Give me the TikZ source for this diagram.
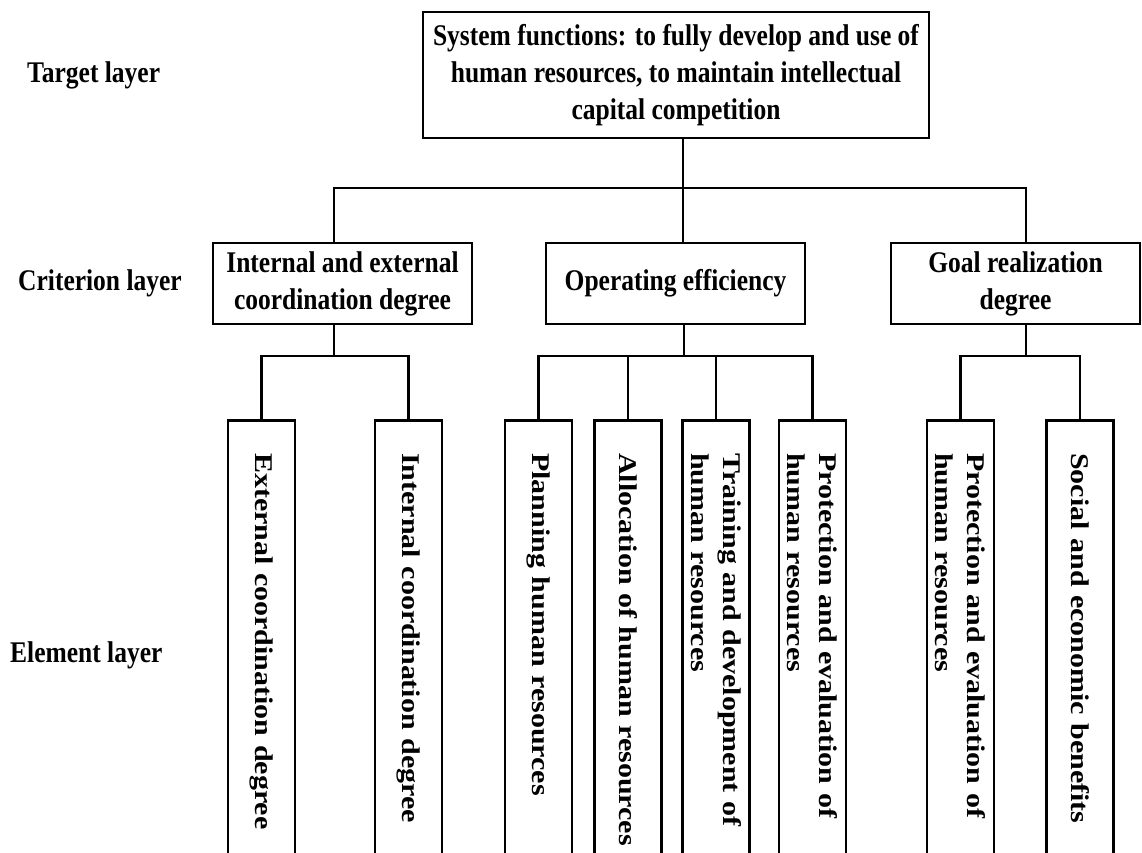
\documentclass[tikz,border=0pt]{standalone}
\usepackage{fontspec}
\setmainfont{Liberation Serif}
\newfontfamily\hfont[FakeStretch=0.85]{Liberation Serif}
\newfontfamily\vfont[FakeStretch=1.176]{Liberation Serif}
\begin{document}
\begin{tikzpicture}[x=1pt,y=-1pt,
  hfnt/.style={font=\hfont\bfseries\fontsize{30}{37}\selectfont},
  hbox/.style={hfnt, draw, line width=2.5pt, inner sep=0pt, align=center},
  ebox/.style={draw, line width=2.5pt, rotate=-90, anchor=west, minimum height=67,
    text width=440, inner xsep=33, inner ysep=0, align=left,
    font=\vfont\bfseries\fontsize{25.5}{32}\selectfont},
  lab/.style={hfnt, anchor=west, inner sep=0pt},
  conn/.style={line width=2.5pt}]
\useasboundingbox (0,0) rectangle (1142,852);
\clip (0,0) rectangle (1142,852);
\fill[white] (0,0) rectangle (1142,852);

% layer labels
\node[lab] (l1) at (27,75) {Target layer};
\node[lab] (l2) at (18,283) {Criterion layer};
\node[lab] (l3) at (10,655) {Element layer};

% target
\node[hbox, minimum width=506, minimum height=126] (t) at (676,75)
  {System functions: to fully develop and use of\\human resources, to maintain intellectual\\capital competition};

% criteria
\node[hbox, minimum width=259, minimum height=81] (c1) at (342.5,283.5)
  {Internal and external\\coordination degree};
\node[hbox, minimum width=259, minimum height=81] (c2) at (675.5,283.5)
  {Operating efficiency};
\node[hbox, minimum width=249, minimum height=81] (c3) at (1015.5,283.5)
  {Goal realization\\degree};

% elements
\node[ebox] (e1) at (261.5,419) {External coordination degree};
\node[ebox] (e2) at (408.5,419) {Internal coordination degree};
\node[ebox] (e3) at (538.5,419) {Planning human resources};
\node[ebox] (e4) at (628,419) {Allocation of human resources};
\node[ebox] (e5) at (716,419) {Training and development of\\human resources};
\node[ebox] (e6) at (812.5,419) {Protection and evaluation of\\human resources};
\node[ebox] (e7) at (960.5,419) {Protection and evaluation of\\human resources};
\node[ebox] (e8) at (1080,419) {Social and economic benefits};

% first-level connectors
\coordinate (j0) at (683,188);
\coordinate (jl) at (334,188);
\coordinate (jr) at (1026,188);
\draw[conn] (t.south -| j0) -- (j0);
\draw[conn] (jl |- c1.north) -- (jl) -- (jr) -- (jr |- c3.north);
\draw[conn] (j0) -- (j0 |- c2.north);

% second-level connectors
\coordinate (k1) at (334,356);
\coordinate (k2) at (684,356);
\coordinate (k3) at (1026,356);
\draw[conn] (c1.south -| k1) -- (k1);
\draw[conn] (c2.south -| k2) -- (k2);
\draw[conn] (c3.south -| k3) -- (k3);
\draw[conn] (e1.west) -- (e1.west |- k1) -- (e2.west |- k1) -- (e2.west);
\draw[conn] (e3.west) -- (e3.west |- k2) -- (e6.west |- k2) -- (e6.west);
\draw[conn] (e4.west) -- (e4.west |- k2);
\draw[conn] (e5.west) -- (e5.west |- k2);
\draw[conn] (e7.west) -- (e7.west |- k3) -- (e8.west |- k3) -- (e8.west);
\end{tikzpicture}
\end{document}
